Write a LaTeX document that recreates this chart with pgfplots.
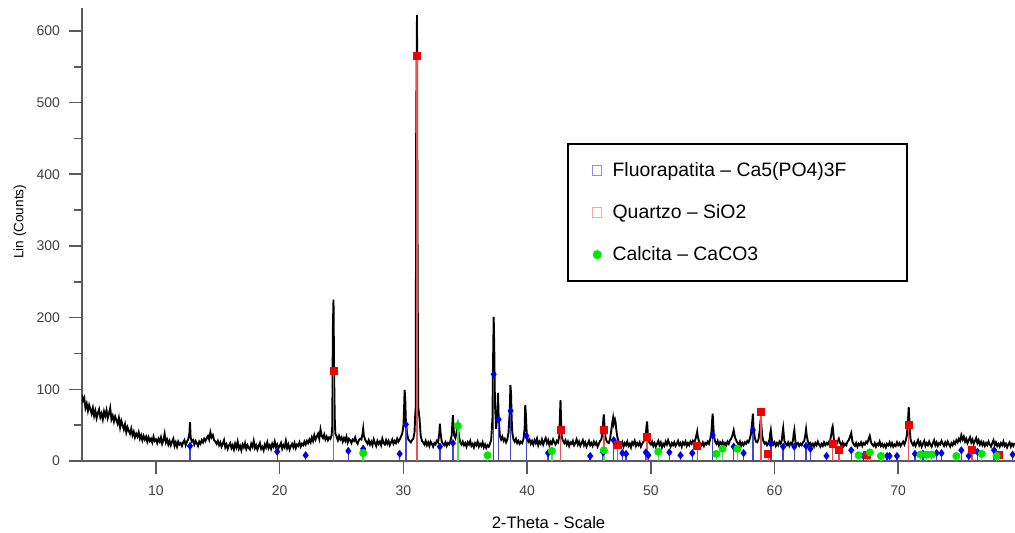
\documentclass[border=0pt]{standalone}
\usepackage{fontspec}
\setmainfont{Liberation Sans}
\usepackage{pgfplots}
\usepackage{pgfplotstable}
\pgfplotsset{compat=1.18}

\definecolor{fluorstick}{RGB}{70,70,205}
\definecolor{fluormark}{RGB}{0,0,230}
\definecolor{quartzstick}{RGB}{225,85,85}
\definecolor{quartzmark}{RGB}{240,0,0}
\definecolor{calcstick}{RGB}{90,220,90}
\definecolor{calcmark}{RGB}{0,230,0}
\definecolor{axisgray}{RGB}{90,90,90}

% reference patterns: 2theta, relative intensity
\pgfplotstableread{
x y
12.75 21
19.8 13
22.1 8
25.55 14
26.75 17
29.7 10
30.2 51
32.95 20
34.0 25
37.3 121
37.7 58
38.67 70
39.95 35
41.7 11
45.1 7
46.15 12
47.0 29
47.7 11
48.0 10
49.6 12
49.8 8
51.5 12
52.4 8
53.35 11
55.0 36
56.7 20
57.5 11
58.25 43
59.7 24
60.7 20
61.6 20
62.55 21
62.9 17
64.2 7
66.2 15
67.2 7
69.1 7
69.3 7
69.9 7
71.35 10
72.0 10
73.1 11
73.5 11
75.1 15
75.7 7
76.4 13
77.75 15
79.25 9
}\fluor

\pgfplotstableread{
x y
24.35 125
31.1 565
42.7 43
46.2 43
47.3 22
49.7 34
53.75 21
58.9 68
59.5 10
64.7 24
65.2 15
67.5 8
70.85 50
75.95 15
78.1 8
}\quartz

\pgfplotstableread{
x y
26.75 11
34.4 49
36.8 8
42.0 14
46.2 15
50.6 13
55.3 10
55.8 17
57.0 17
66.8 8
67.7 12
68.6 7
71.8 9
72.3 9
72.7 9
74.7 7
76.75 10
77.95 7
}\calc

\begin{document}
\begin{tikzpicture}
\useasboundingbox (0,0) rectangle (507.5pt,266.5pt);
\begin{axis}[
  at={(41pt,36pt)}, anchor=south west,
  scale only axis, width=466.5pt, height=226.5pt,
  xmin=4.02, xmax=79.44, ymin=0, ymax=632,
  axis x line=bottom, axis y line=left,
  axis line style={-, axisgray, line width=0.8pt},
  xtick={10,20,...,70}, ytick={0,100,...,600},
  minor ytick={50,150,...,550},
  tick align=outside, major tick length=6.5pt, minor tick length=4pt,
  tick style={axisgray, line width=0.8pt},
  /pgf/number format/assume math mode=true,
  ticklabel style={font=\fontsize{7}{8}\selectfont, text=black!75},
  yticklabel style={xshift=-1pt},
  xticklabel style={yshift=-2.5pt},
  xlabel={2-Theta - Scale}, ylabel={Lin (Counts)},
  xlabel style={font=\fontsize{8.3}{10}\selectfont, at={(axis description cs:0.5,0)}, anchor=center, yshift=-31pt},
  ylabel style={font=\fontsize{6.8}{8}\selectfont, at={(axis description cs:-0.0665,0.528)}, anchor=center},
  legend style={at={(axis description cs:0.52,0.702)}, anchor=north west,
    draw=black, line width=1pt, font=\fontsize{9.7}{11}\selectfont,
    inner xsep=6pt, inner ysep=7pt, row sep=8.5pt, cells={anchor=west}},
  legend image code/.code={\path[draw=none, fill=none] (0cm,-0.05cm) rectangle (0.5cm,0.05cm);
    \draw[#1] plot coordinates {(0.3cm,0cm)};},
]
\addplot[black, line width=0.95pt, forget plot] coordinates {
(4.0,92)(4.1,84)(4.2,88)(4.3,74)(4.4,80)(4.5,70)(4.6,78)(4.7,72)(4.8,66)(4.9,74)(5.0,63)
(5.1,70)(5.2,60)(5.3,67)(5.4,72)(5.5,61)(5.6,66)(5.7,58)(5.8,69)(5.9,63)(6.0,71)
(6.1,60)(6.2,66)(6.3,74)(6.4,58)(6.5,63)(6.6,55)(6.7,62)(6.8,57)(6.9,52)(7.0,60)
(7.1,47)(7.2,56)(7.3,50)(7.4,44)(7.5,51)(7.6,40)(7.7,47)(7.8,42)(7.9,38)(8.0,45)
(8.1,36)(8.2,41)(8.3,33)(8.4,38)(8.5,34)(8.6,40)(8.7,31)(8.8,36)(8.9,29)(9.0,35)
(9.1,30)(9.2,34)(9.3,27)(9.4,33)(9.5,28)(9.6,31)(9.7,26)(9.8,34)(9.9,28)(10.0,30)
(10.1,25)(10.2,31)(10.3,27)(10.4,33)(10.5,24)(10.6,29)(10.7,38)(10.8,26)(10.9,30)(11.0,23)
(11.1,28)(11.2,22)(11.3,27)(11.4,31)(11.5,21)(11.6,26)(11.7,20)(11.8,27)(11.9,23)(12.0,25)
(12.1,21)(12.2,26)(12.3,29)(12.4,22)(12.5,27)(12.6,30)(12.7,38)(12.75,54)(12.8,33)(12.9,27)(13.0,29)
(13.1,23)(13.2,28)(13.3,25)(13.4,21)(13.5,27)(13.6,24)(13.7,29)(13.8,26)(13.9,31)(14.0,28)
(14.1,32)(14.2,35)(14.3,30)(14.4,40)(14.5,33)(14.6,36)(14.7,29)(14.8,27)(14.9,24)(15.0,28)
(15.1,22)(15.2,26)(15.3,20)(15.4,24)(15.5,29)(15.6,19)(15.7,23)(15.8,17)(15.9,22)(16.0,25)
(16.1,18)(16.2,22)(16.3,16)(16.4,24)(16.5,19)(16.6,27)(16.7,17)(16.8,21)(16.9,15)(17.0,23)
(17.1,19)(17.2,25)(17.3,17)(17.4,22)(17.5,18)(17.6,16)(17.7,24)(17.8,20)(17.9,28)(18.0,18)
(18.1,22)(18.2,16)(18.3,21)(18.4,25)(18.5,17)(18.6,20)(18.7,15)(18.8,23)(18.9,19)(19.0,26)
(19.1,18)(19.2,22)(19.3,17)(19.4,24)(19.5,20)(19.6,27)(19.7,19)(19.8,23)(19.9,18)(20.0,21)
(20.1,25)(20.2,17)(20.3,22)(20.4,19)(20.5,28)(20.6,18)(20.7,23)(20.8,16)(20.9,21)(21.0,24)
(21.1,19)(21.2,25)(21.3,18)(21.4,23)(21.5,21)(21.6,26)(21.7,20)(21.8,24)(21.9,22)(22.0,27)
(22.1,23)(22.2,28)(22.3,25)(22.4,30)(22.5,26)(22.6,33)(22.7,28)(22.8,36)(22.9,30)(23.0,34)
(23.1,38)(23.2,31)(23.3,44)(23.4,35)(23.5,32)(23.6,37)(23.7,30)(23.8,34)(23.9,29)(24.0,33)
(24.1,31)(24.2,36)(24.25,48)(24.3,185)(24.35,225)(24.4,120)(24.45,60)(24.5,38)(24.6,34)
(24.7,29)(24.8,35)(24.9,30)(25.0,33)(25.1,27)(25.2,32)(25.3,28)(25.4,34)(25.5,26)
(25.6,31)(25.7,29)(25.8,25)(25.9,30)(26.0,28)(26.1,33)(26.2,27)(26.3,24)(26.4,29)(26.5,31)
(26.6,30)(26.7,38)(26.75,45)(26.8,36)(26.9,30)(27.0,27)
(27.1,24)(27.2,29)(27.3,23)(27.4,27)(27.5,22)(27.6,30)(27.7,25)(27.8,21)(27.9,28)(28.0,24)
(28.1,27)(28.2,22)(28.3,31)(28.4,25)(28.5,23)(28.6,29)(28.7,24)(28.8,28)(28.9,22)(29.0,26)
(29.1,30)(29.2,24)(29.3,28)(29.4,25)(29.5,31)(29.6,27)(29.7,30)(29.8,34)(29.9,38)
(30.0,48)(30.05,70)(30.1,99)(30.15,86)(30.2,55)(30.3,38)(30.4,30)(30.5,28)
(30.6,26)(30.7,29)(30.8,31)(30.9,40)(30.95,62)(31.0,75)(31.03,443)(31.07,560)(31.1,622)(31.13,368)(31.17,180)(31.2,75)(31.3,60)(31.4,35)(31.5,28)(31.6,26)
(31.7,23)(31.8,28)(31.9,22)(32.0,26)(32.1,21)(32.2,27)(32.3,24)(32.4,20)(32.5,25)(32.6,23)(32.7,28)
(32.8,26)(32.9,38)(32.95,52)(33.0,40)(33.1,27)(33.2,24)
(33.3,22)(33.4,26)(33.5,21)(33.6,25)(33.7,23)(33.8,28)
(33.9,35)(33.95,50)(34.0,64)(34.05,48)(34.1,36)(34.2,32)(34.3,40)(34.4,50)(34.5,33)(34.6,26)
(34.7,23)(34.8,27)(34.9,22)(35.0,25)(35.1,20)(35.2,26)(35.3,23)(35.4,28)(35.5,21)(35.6,24)(35.7,19)(35.8,25)(35.9,22)(36.0,27)(36.1,20)(36.2,24)(36.3,21)(36.4,26)(36.5,19)(36.6,23)(36.7,18)(36.8,22)
(36.9,20)(37.0,24)(37.1,30)(37.2,60)(37.25,140)(37.3,201)(37.35,150)(37.4,80)(37.5,45)(37.6,70)(37.65,95)(37.7,60)(37.8,35)(37.9,30)(38.0,34)(38.1,28)
(38.2,31)(38.3,26)(38.4,30)(38.5,40)(38.6,70)(38.65,106)(38.7,95)(38.75,60)(38.8,40)(38.9,30)(39.0,27)(39.1,31)(39.2,25)(39.3,28)(39.4,24)(39.5,27)(39.6,25)(39.7,30)
(39.8,45)(39.85,78)(39.9,65)(39.95,45)(40.0,33)(40.1,27)(40.2,30)
(40.3,24)(40.4,28)(40.5,23)(40.6,29)(40.7,25)(40.8,31)(40.9,22)(41.0,27)(41.1,24)(41.2,30)(41.3,23)(41.4,28)(41.5,32)(41.6,25)(41.7,29)(41.8,22)(41.9,27)(42.0,24)(42.1,30)(42.2,26)(42.3,23)(42.4,28)(42.5,26)
(42.6,35)(42.65,60)(42.7,85)(42.75,55)(42.8,34)(42.9,28)(43.0,25)
(43.1,29)(43.2,23)(43.3,27)(43.4,21)(43.5,26)(43.6,24)(43.7,28)(43.8,22)(43.9,25)(44.0,30)(44.1,23)(44.2,27)(44.3,21)(44.4,25)(44.5,29)(44.6,22)(44.7,26)(44.8,20)(44.9,24)(45.0,28)
(45.1,22)(45.2,25)(45.3,21)(45.4,27)(45.5,23)(45.6,26)(45.7,20)(45.8,24)(45.9,28)(46.0,30)
(46.1,40)(46.15,55)(46.2,65)(46.25,50)(46.3,36)(46.4,29)(46.5,26)
(46.6,25)(46.7,30)(46.8,42)(46.9,55)(46.95,60)(47.0,52)(47.1,58)(47.15,54)(47.2,45)(47.3,33)(47.4,27)
(47.5,24)(47.6,21)(47.7,26)(47.8,20)(47.9,25)(48.0,22)(48.1,27)(48.2,21)(48.3,24)(48.4,19)(48.5,26)(48.6,23)(48.7,28)(48.8,21)(48.9,25)(49.0,22)(49.1,26)(49.2,20)(49.3,24)(49.4,27)(49.5,30)
(49.6,38)(49.65,48)(49.7,55)(49.75,40)(49.8,30)(49.9,25)(50.0,23)
(50.1,27)(50.2,21)(50.3,25)(50.4,20)(50.5,24)(50.6,28)(50.7,22)(50.8,26)(50.9,19)(51.0,24)(51.1,21)(51.2,27)(51.3,23)(51.4,29)(51.5,24)(51.6,20)(51.7,25)(51.8,22)(51.9,26)(52.0,21)
(52.1,24)(52.2,28)(52.3,22)(52.4,25)(52.5,20)(52.6,26)(52.7,23)(52.8,27)(52.9,21)(53.0,25)(53.1,22)(53.2,27)(53.3,24)(53.4,28)(53.5,25)
(53.6,30)(53.7,37)(53.75,41)(53.8,34)(53.9,27)(54.0,24)
(54.1,22)(54.2,26)(54.3,21)(54.4,25)(54.5,23)(54.6,27)(54.7,24)(54.8,30)
(54.9,40)(54.95,55)(55.0,66)(55.05,50)(55.1,35)(55.2,27)
(55.3,24)(55.4,28)(55.5,22)(55.6,26)(55.7,23)(55.8,27)(55.9,21)(56.0,25)(56.1,22)(56.2,27)(56.3,24)(56.4,29)
(56.5,31)(56.6,36)(56.7,43)(56.75,38)(56.8,33)(56.9,29)(57.0,25)
(57.1,23)(57.2,27)(57.3,21)(57.4,25)(57.5,22)(57.6,26)(57.7,24)(57.8,28)(57.9,26)(58.0,31)
(58.1,38)(58.2,55)(58.25,66)(58.3,48)(58.4,33)(58.5,27)
(58.6,26)(58.7,30)(58.8,42)(58.85,53)(58.9,60)(58.95,47)(59.0,35)(59.1,28)(59.2,24)
(59.3,26)(59.4,22)(59.5,25)(59.6,30)(59.65,38)(59.7,43)(59.75,35)(59.8,28)(59.9,23)
(60.0,26)(60.1,21)(60.2,25)(60.3,22)(60.4,27)(60.5,24)(60.6,30)(60.65,40)(60.7,46)(60.75,36)(60.8,28)(60.9,24)
(61.0,22)(61.1,26)(61.2,21)(61.3,25)(61.4,23)(61.5,30)(61.55,38)(61.6,43)(61.65,34)(61.7,26)(61.8,23)
(61.9,25)(62.0,21)(62.1,24)(62.2,22)(62.3,26)(62.4,28)(62.5,37)(62.55,44)(62.6,36)(62.7,27)(62.8,23)
(62.9,25)(63.0,21)(63.1,24)(63.2,20)(63.3,25)(63.4,22)(63.5,27)(63.6,23)(63.7,20)(63.8,24)(63.9,21)(64.0,26)(64.1,22)(64.2,25)(64.3,23)(64.4,27)(64.5,29)
(64.6,38)(64.65,45)(64.7,48)(64.75,40)(64.8,30)(64.9,25)
(65.0,23)(65.1,27)(65.2,31)(65.3,25)(65.4,22)(65.5,26)(65.6,21)(65.7,24)(65.8,22)(65.9,27)(66.0,29)
(66.1,34)(66.2,39)(66.25,33)(66.3,27)(66.4,23)
(66.5,21)(66.6,25)(66.7,20)(66.8,24)(66.9,22)(67.0,26)(67.1,21)(67.2,25)(67.3,23)(67.4,27)(67.5,25)
(67.6,30)(67.7,35)(67.75,31)(67.8,26)(67.9,23)
(68.0,21)(68.1,25)(68.2,20)(68.3,24)(68.4,22)(68.5,27)(68.6,21)(68.7,24)(68.8,20)(68.9,23)(69.0,19)(69.1,24)(69.2,22)(69.3,26)(69.4,21)(69.5,25)(69.6,20)(69.7,23)(69.8,21)(69.9,26)
(70.0,22)(70.1,25)(70.2,21)(70.3,24)(70.4,27)(70.5,23)(70.6,28)
(70.7,36)(70.8,60)(70.85,75)(70.9,58)(70.95,40)(71.0,30)(71.1,25)
(71.2,22)(71.3,26)(71.4,21)(71.5,25)(71.6,29)(71.7,22)(71.8,26)(71.9,20)(72.0,24)(72.1,28)(72.2,21)(72.3,25)(72.4,22)(72.5,27)(72.6,23)(72.7,20)(72.8,25)(72.9,29)(73.0,22)
(73.1,26)(73.2,21)(73.3,25)(73.4,23)(73.5,28)(73.6,24)(73.7,21)(73.8,26)(73.9,22)(74.0,27)(74.1,23)(74.2,20)(74.3,25)(74.4,22)(74.5,27)(74.6,24)(74.7,29)(74.8,26)(74.9,31)(75.0,28)
(75.1,36)(75.2,30)(75.3,34)(75.4,27)(75.5,31)(75.6,25)(75.7,29)(75.8,33)(75.9,26)(76.0,30)(76.1,24)(76.2,28)(76.3,32)(76.4,25)(76.5,29)(76.6,23)(76.7,27)(76.8,22)(76.9,26)(77.0,21)
(77.1,25)(77.2,22)(77.3,27)(77.4,23)(77.5,20)(77.6,25)(77.7,29)(77.8,22)(77.9,26)(78.0,21)(78.1,24)(78.2,20)(78.3,25)(78.4,22)(78.5,27)(78.6,21)(78.7,24)(78.8,19)(78.9,23)(79.0,26)
(79.1,20)(79.2,24)(79.3,21)(79.4,25)
};
% sticks
\addplot[ycomb, fluorstick, line width=0.7pt, forget plot] table[x=x,y=y] {\fluor};
\addplot[ycomb, quartzstick, line width=0.7pt, forget plot] table[x=x,y=y] {\quartz};
\addplot[ycomb, calcstick, line width=0.7pt, forget plot] table[x=x,y=y] {\calc};
% markers
\addplot[only marks, mark=diamond*, mark size=1.7pt, fluormark, forget plot] table[x=x,y=y] {\fluor};
\addplot[only marks, mark=square*, mark size=1.75pt, quartzmark, forget plot] table[x=x,y=y] {\quartz};
\addplot[only marks, mark=*, mark size=1.8pt, calcmark, forget plot] table[x=x,y=y] {\calc};
% legend
\addlegendimage{only marks, mark=square, mark size=2.3pt, blue!45, line width=0.5pt}
\addlegendentry{\makebox[139pt][l]{Fluorapatita -- Ca5(PO4)3F}}
\addlegendimage{only marks, mark=square, mark size=2.3pt, red!35, line width=0.5pt}
\addlegendentry{Quartzo -- SiO2}
\addlegendimage{only marks, mark=*, mark size=2pt, calcmark, line width=0.5pt}
\addlegendentry{Calcita -- CaCO3}
\end{axis}
\end{tikzpicture}
\end{document}
